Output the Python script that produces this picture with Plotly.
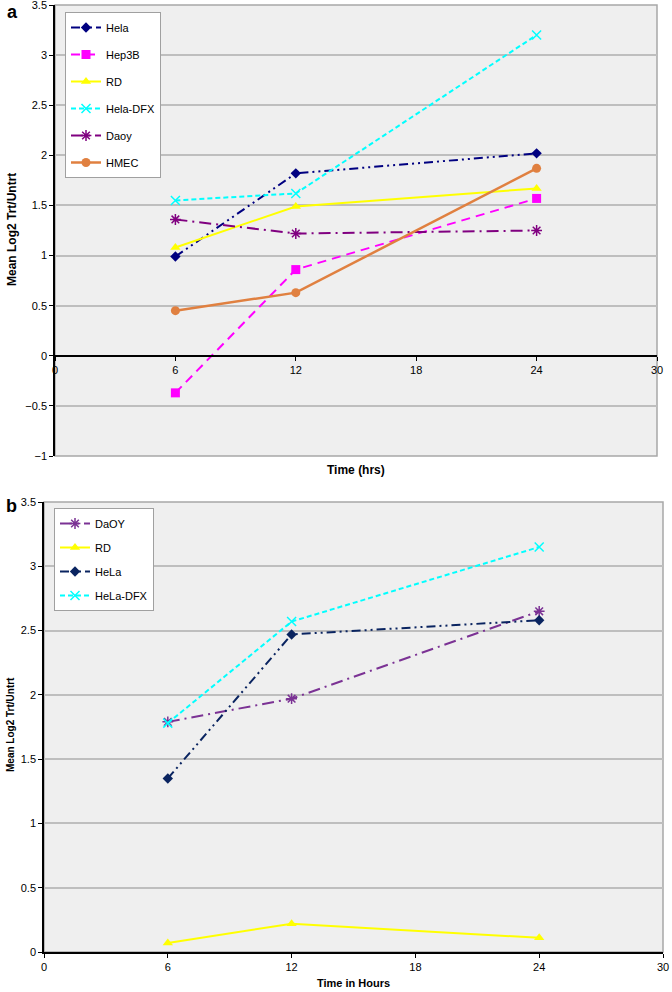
import plotly.graph_objects as go

# ---------------- data ----------------
hours = [6, 12, 24]
x_ticks = [0, 6, 12, 18, 24, 30]

# panel a
a_hela = [0.99, 1.82, 2.02]
a_hep3b = [-0.37, 0.86, 1.57]
a_rd = [1.08, 1.49, 1.67]
a_hela_dfx = [1.55, 1.62, 3.20]
a_daoy = [1.36, 1.22, 1.25]
a_hmec = [0.45, 0.63, 1.87]

# panel b
b_daoy = [1.79, 1.97, 2.65]
b_rd = [0.07, 0.22, 0.11]
b_hela = [1.35, 2.47, 2.58]
b_hela_dfx = [1.78, 2.57, 3.15]

FONT = "Liberation Sans, Arial, sans-serif"

fig = go.Figure()


def add(y, name, color, dash, symbol, size, width, xa, ya, legend, open_marker=False):
    marker = dict(symbol=symbol, size=size, color=color)
    if open_marker:
        marker["line"] = dict(color=color, width=1.5)
    fig.add_trace(go.Scatter(
        x=hours, y=y, name=name, mode="lines+markers",
        line=dict(color=color, width=width, dash=dash),
        marker=marker, xaxis=xa, yaxis=ya, legend=legend, legendgroup=legend + name,
    ))


DASHDOTDOT = "9px,4px,2px,4px,2px,4px"
DASHDOT = "12px,5px,2px,5px"

add(a_hela, "Hela", "#000080", DASHDOTDOT, "diamond", 8, 2, "x", "y", "legend")
add(a_hep3b, "Hep3B", "#FF00FF", "9px,6px", "square", 9, 2, "x", "y", "legend")
add(a_rd, "RD", "#FFFF00", "solid", "triangle-up", 9, 2, "x", "y", "legend")
add(a_hela_dfx, "Hela-DFX", "#00FFFF", "5px,3px", "x-thin-open", 9, 2, "x", "y", "legend", True)
add(a_daoy, "Daoy", "#800080", DASHDOT, "asterisk-open", 9, 2, "x", "y", "legend", True)
add(a_hmec, "HMEC", "#E08040", "solid", "circle", 9, 2.5, "x", "y", "legend")

add(b_daoy, "DaOY", "#7B3294", DASHDOT, "asterisk-open", 9, 2, "x2", "y2", "legend2", True)
add(b_rd, "RD", "#FFFF00", "solid", "triangle-up", 9, 2, "x2", "y2", "legend2")
add(b_hela, "HeLa", "#0A2460", DASHDOTDOT, "diamond", 8, 2, "x2", "y2", "legend2")
add(b_hela_dfx, "HeLa-DFX", "#00FFFF", "5px,3px", "x-thin-open", 9, 2, "x2", "y2", "legend2", True)

W, H = 672, 992


def py(pix):
    return 1 - pix / H


tickfont = dict(family=FONT, size=11, color="#000000")
grid = "#BEBEBE"

fig.update_layout(
    width=W, height=H,
    margin=dict(l=0, r=0, t=0, b=0, autoexpand=False),
    paper_bgcolor="white",
    plot_bgcolor="#EFEFEF",
    font=dict(family=FONT, size=11, color="black"),
    showlegend=True,
    xaxis=dict(domain=[55 / W, 657 / W], range=[0, 30], tickvals=x_ticks,
               anchor="free", position=py(356), showline=True, linecolor="black",
               linewidth=1.5, ticks="outside", ticklen=4, tickcolor="black",
               showgrid=False, zeroline=False, tickfont=tickfont,
               ticklabeloverflow="allow"),
    yaxis=dict(domain=[py(456), py(5)], range=[-1, 3.5], dtick=0.5,
               showgrid=True, gridcolor=grid, gridwidth=1.5, showline=True,
               linecolor="black", linewidth=1.5, ticks="outside", ticklen=4,
               tickcolor="black", zeroline=True, zerolinecolor="black",
               zerolinewidth=1.5, tickfont=tickfont, anchor="x",
               ticklabeloverflow="allow"),
    xaxis2=dict(domain=[44 / W, 663 / W], range=[0, 30], tickvals=x_ticks,
                anchor="y2", showline=True, linecolor="black", linewidth=1.5,
                ticks="outside", ticklen=4, tickcolor="black", showgrid=False,
                zeroline=False, tickfont=tickfont, ticklabeloverflow="allow"),
    yaxis2=dict(domain=[py(952), py(502)], range=[0, 3.5], dtick=0.5,
                showgrid=True, gridcolor=grid, gridwidth=1.5, showline=True,
                linecolor="black", linewidth=1.5, ticks="outside", ticklen=4,
                tickcolor="black", zeroline=False, tickfont=tickfont, anchor="x2",
                ticklabeloverflow="allow"),
    legend=dict(x=65 / W, y=py(12), xanchor="left", yanchor="top",
                bgcolor="white", bordercolor="#A0A0A0", borderwidth=1,
                font=dict(family=FONT, size=11), tracegroupgap=8,
                itemwidth=30),
    legend2=dict(x=54 / W, y=py(508), xanchor="left", yanchor="top",
                 bgcolor="white", bordercolor="#A0A0A0", borderwidth=1,
                 font=dict(family=FONT, size=11), tracegroupgap=5,
                 itemwidth=30),
    shapes=[
        dict(type="rect", xref="x domain", yref="y domain", x0=0, x1=1, y0=0, y1=1,
             line=dict(color="#A8A8A8", width=1.5), layer="below"),
        dict(type="rect", xref="x2 domain", yref="y2 domain", x0=0, x1=1, y0=0, y1=1,
             line=dict(color="#A8A8A8", width=1.5), layer="below"),
    ],
    annotations=[
        dict(text="<b>a</b>", x=5 / W, y=py(0), xref="paper", yref="paper",
             xanchor="left", yanchor="top", showarrow=False,
             font=dict(family=FONT, size=18, color="black")),
        dict(text="<b>b</b>", x=4 / W, y=py(494), xref="paper", yref="paper",
             xanchor="left", yanchor="top", showarrow=False,
             font=dict(family=FONT, size=18, color="black")),
        dict(text="<b>Time (hrs)</b>", x=356 / W, y=py(470), xref="paper", yref="paper",
             xanchor="center", yanchor="middle", showarrow=False,
             font=dict(family=FONT, size=12, color="black")),
        dict(text="<b>Time in Hours</b>", x=353 / W, y=py(983), xref="paper", yref="paper",
             xanchor="center", yanchor="middle", showarrow=False,
             font=dict(family=FONT, size=11, color="black")),
        dict(text="<b>Mean Log2 Trt/Untrt</b>", x=12 / W, y=py(230), xref="paper", yref="paper",
             xanchor="center", yanchor="middle", showarrow=False, textangle=-90,
             font=dict(family=FONT, size=12, color="black")),
        dict(text="<b>Mean Log2 Trt/Untrt</b>", x=10 / W, y=py(725), xref="paper", yref="paper",
             xanchor="center", yanchor="middle", showarrow=False, textangle=-90,
             font=dict(family=FONT, size=10, color="black")),
    ],
)

fig.write_html(
    "out.html",
    config={"displayModeBar": False},
    post_script="document.body.style.margin='0';document.body.style.padding='0';",
)
